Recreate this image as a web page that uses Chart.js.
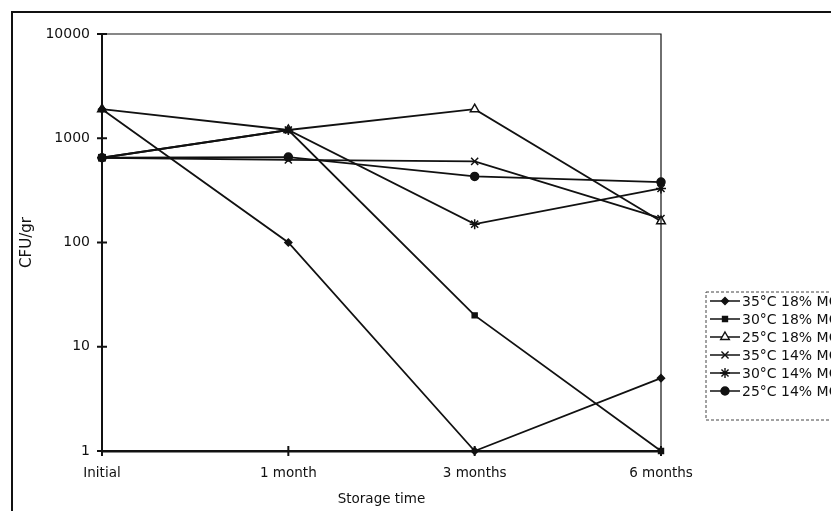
<!DOCTYPE html>
<html>
<head>
<meta charset="utf-8">
<script src="https://cdn.jsdelivr.net/npm/chart.js@4/dist/chart.umd.min.js"></script>
<style>
html,body{margin:0;padding:0;background:#fff;}
canvas{display:block;}
</style>
</head>
<body>
<canvas id="c" width="831" height="511"></canvas>
<script>
const categories = ['Initial', '1 month', '3 months', '6 months'];
const yTickValues = [1, 10, 100, 1000, 10000];
const seriesLabels = ['35°C 18% MC', '30°C 18% MC', '25°C 18% MC', '35°C 14% MC', '30°C 14% MC', '25°C 14% MC'];
const s35_18 = [1900, 100, 1, 5];
const s30_18 = [650, 1200, 20, 1];
const s25_18 = [1900, 1200, 1900, 160];
const s35_14 = [650, 620, 600, 170];
const s30_14 = [650, 1200, 150, 330];
const s25_14 = [650, 660, 430, 380];
const xTitle = 'Storage time';
const yTitle = 'CFU/gr';

const FONT = 'DejaVu Sans';
const INK = '#111';

const styles = [
  {pointStyle: 'rectRot', radius: 3.5, bg: INK},
  {pointStyle: 'rect', radius: 3.5, bg: INK},
  {pointStyle: 'triangle', radius: 5, bg: '#fff'},
  {pointStyle: 'crossRot', radius: 5, bg: INK},
  {pointStyle: 'star', radius: 5, bg: INK},
  {pointStyle: 'circle', radius: 4, bg: INK}
];
const seriesData = [s35_18, s30_18, s25_18, s35_14, s30_14, s25_14];

const datasets = seriesData.map((d, i) => ({
  label: seriesLabels[i],
  data: d,
  borderColor: INK,
  backgroundColor: styles[i].bg,
  borderWidth: 1.8,
  pointStyle: styles[i].pointStyle,
  pointRadius: styles[i].radius,
  pointBorderColor: INK,
  pointBackgroundColor: styles[i].bg,
  pointBorderWidth: 1.5,
  tension: 0,
  clip: false
}));

const framePlugin = {
  id: 'frame',
  beforeDraw(chart) {
    const ctx = chart.ctx;
    ctx.save();
    ctx.fillStyle = '#fff';
    ctx.fillRect(0, 0, chart.width, chart.height);
    ctx.restore();
  },
  afterDatasetsDraw(chart) {
    const ctx = chart.ctx;
    const a = chart.chartArea;
    ctx.save();
    ctx.strokeStyle = INK;
    ctx.lineWidth = 2;
    ctx.beginPath();
    ctx.moveTo(12, chart.height);
    ctx.lineTo(12, 12);
    ctx.lineTo(chart.width, 12);
    ctx.stroke();
    ctx.lineWidth = 1.2;
    ctx.beginPath();
    ctx.moveTo(a.left, a.top);
    ctx.lineTo(a.right, a.top);
    ctx.lineTo(a.right, a.bottom);
    ctx.stroke();
    ctx.lineWidth = 2;
    const ys = chart.scales.y, xs = chart.scales.x;
    yTickValues.forEach(v => {
      const py = ys.getPixelForValue(v);
      ctx.beginPath();
      ctx.moveTo(a.left - 5, py);
      ctx.lineTo(a.left + 5, py);
      ctx.stroke();
    });
    categories.forEach((c, i) => {
      const px = xs.getPixelForValue(i);
      ctx.beginPath();
      ctx.moveTo(px, a.bottom - 5);
      ctx.lineTo(px, a.bottom + 5);
      ctx.stroke();
    });
    const lx = 706, ly = 292, lh = 128;
    ctx.lineWidth = 1;
    ctx.setLineDash([3, 2]);
    ctx.strokeStyle = '#444';
    ctx.strokeRect(lx, ly, 160, lh);
    ctx.setLineDash([]);
    ctx.font = '14px "' + FONT + '"';
    ctx.textBaseline = 'middle';
    ctx.textAlign = 'left';
    chart.data.datasets.forEach((ds, i) => {
      const y = 301 + i * 18;
      ctx.strokeStyle = INK;
      ctx.lineWidth = 1.5;
      ctx.beginPath();
      ctx.moveTo(710, y);
      ctx.lineTo(740, y);
      ctx.stroke();
      ctx.fillStyle = ds.pointBackgroundColor;
      ctx.strokeStyle = INK;
      ctx.lineWidth = 1.4;
      if (Chart.helpers && Chart.helpers.drawPoint) {
        Chart.helpers.drawPoint(ctx, {pointStyle: ds.pointStyle, radius: ds.pointRadius, rotation: 0, borderWidth: 1.4}, 725, y);
      }
      ctx.fillStyle = INK;
      ctx.fillText(ds.label, 742, y + 1);
    });
    ctx.restore();
  }
};

new Chart(document.getElementById('c'), {
  type: 'line',
  data: {labels: categories, datasets},
  options: {
    responsive: false,
    animation: false,
    layout: {padding: {top: 34, right: 170, left: 0, bottom: 0}},
    plugins: {legend: {display: false}, tooltip: {enabled: false}},
    scales: {
      x: {
        type: 'category',
        offset: false,
        grid: {display: false, drawTicks: false},
        border: {display: true, color: INK, width: 2.5},
        ticks: {color: INK, font: {family: FONT, size: 13.5}, padding: 14, maxRotation: 0, autoSkip: false},
        title: {display: true, text: xTitle, color: INK, font: {family: FONT, size: 13.5}, padding: {top: 0, bottom: 3}},
        afterFit(s) { s.height = 60; }
      },
      y: {
        type: 'logarithmic',
        min: 1,
        max: 10000,
        grid: {display: false, drawTicks: false},
        border: {display: true, color: INK, width: 2},
        afterBuildTicks(s) { s.ticks = yTickValues.map(v => ({value: v})); },
        ticks: {color: INK, font: {family: FONT, size: 14}, padding: 12, callback: v => String(v)},
        title: {display: true, text: yTitle, color: INK, font: {family: FONT, size: 15}, padding: {top: 18, bottom: 0}},
        afterFit(s) { s.width = 102; }
      }
    }
  },
  plugins: [framePlugin]
});
</script>
</body>
</html>
